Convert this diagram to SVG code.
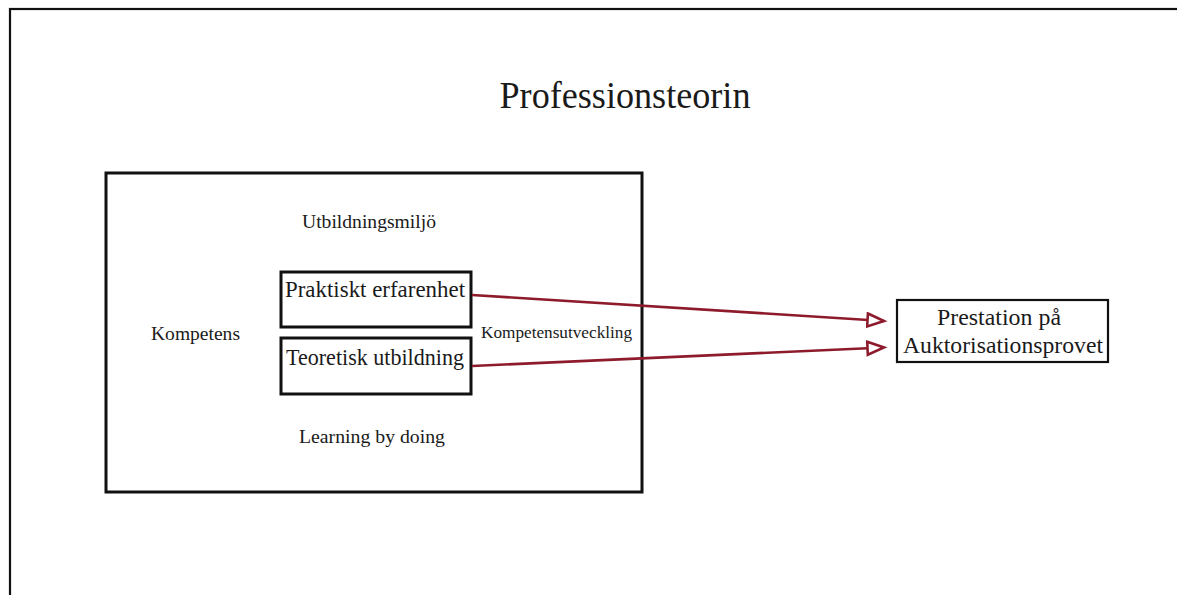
<svg xmlns="http://www.w3.org/2000/svg" width="1177" height="595" viewBox="0 0 1177 595">
<style>
text{font-family:"Liberation Serif","Times New Roman",serif;fill:#1a1a1a}
.box{fill:none;stroke:#111;stroke-width:3}
.thin{fill:none;stroke:#111;stroke-width:2.2}
.conn{fill:none;stroke:#8e1b2c;stroke-width:2.6}
</style>
<defs>
<marker id="tri" markerUnits="userSpaceOnUse" markerWidth="22" markerHeight="18" refX="18" refY="8" orient="auto" viewBox="0 0 22 18">
<path d="M1.5,1.5 L18,8 L1.5,14.5 Z" fill="#fff" stroke="#8e1b2c" stroke-width="2.6" stroke-linejoin="miter"/>
</marker>
</defs>
<rect x="0" y="0" width="1177" height="595" fill="#fff"/>
<g id="frame"><rect x="10" y="9" width="1200" height="620" class="thin"/></g>
<g id="title"><text x="625" y="108" font-size="37" text-anchor="middle" textLength="251" lengthAdjust="spacingAndGlyphs">Professionsteorin</text></g>
<g id="kompetens-area">
<rect x="106" y="173" width="536" height="319" class="box"/>
<text x="369" y="228" font-size="19" text-anchor="middle" textLength="134" lengthAdjust="spacingAndGlyphs">Utbildningsmiljö</text>
<text x="195.5" y="340" font-size="19.5" text-anchor="middle" textLength="89" lengthAdjust="spacingAndGlyphs">Kompetens</text>
<text x="372" y="443" font-size="19.5" text-anchor="middle" textLength="146" lengthAdjust="spacingAndGlyphs">Learning by doing</text>
<text x="556.5" y="338" font-size="17.5" text-anchor="middle" textLength="151" lengthAdjust="spacingAndGlyphs">Kompetensutveckling</text>
</g>
<g id="praktiskt">
<rect x="281" y="272" width="190" height="55" class="box"/>
<text x="375" y="297" font-size="23" text-anchor="middle" textLength="180" lengthAdjust="spacingAndGlyphs">Praktiskt erfarenhet</text>
</g>
<g id="teoretisk">
<rect x="281" y="338" width="190" height="56" class="box"/>
<text x="375" y="365" font-size="23" text-anchor="middle" textLength="178" lengthAdjust="spacingAndGlyphs">Teoretisk utbildning</text>
</g>
<g id="prestation">
<rect x="897" y="300" width="211" height="62" class="thin"/>
<text x="999" y="325" font-size="23.5" text-anchor="middle" textLength="124" lengthAdjust="spacingAndGlyphs">Prestation på</text>
<text x="1003" y="353" font-size="23.5" text-anchor="middle" textLength="200" lengthAdjust="spacingAndGlyphs">Auktorisationsprovet</text>
</g>
<g id="connectors">
<line x1="472" y1="295" x2="884" y2="321" class="conn" marker-end="url(#tri)"/>
<line x1="472" y1="366" x2="884" y2="347.5" class="conn" marker-end="url(#tri)"/>
</g>
</svg>
